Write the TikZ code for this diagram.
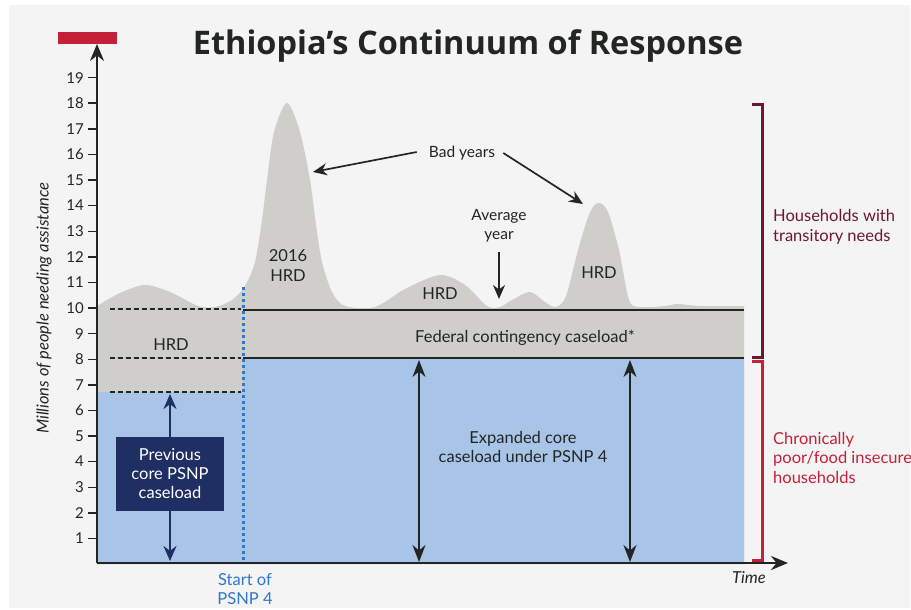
\documentclass[tikz,border=0pt]{standalone}
\usepackage{fontspec}
\setmainfont{Lato}
\newfontfamily\titlefont{Open Sans}
\usetikzlibrary{arrows.meta}
\definecolor{bg}{HTML}{F4F4F4}
\definecolor{hrdgray}{HTML}{D0CECB}
\definecolor{coreblue}{HTML}{A8C5E8}
\definecolor{navy}{HTML}{1F2F63}
\definecolor{maroon}{HTML}{6E1735}
\definecolor{crimson}{HTML}{C4203A}
\definecolor{ink}{HTML}{222622}
\definecolor{psnpblue}{HTML}{2F78CC}
\tikzset{
  lbl/.style={font=\fontsize{16.5}{20}\selectfont, text=ink, align=center, inner sep=0pt},
  ticklbl/.style={font=\fontsize{15}{16}\selectfont, text=ink, anchor=east, inner sep=0pt},
  axisline/.style={draw=ink, line width=2.4pt},
  arr/.style={draw=ink, line width=1.7pt, -{Stealth[length=14pt,width=12pt]}},
  dblarr/.style={draw=ink, line width=2pt, {Stealth[length=17pt,width=13pt]}-{Stealth[length=17pt,width=13pt]}},
  navyarr/.style={draw=navy, line width=2.2pt, -{Stealth[length=15pt,width=13pt]}},
  dashline/.style={draw=ink, line width=2pt, dash pattern=on 5pt off 3pt},
  solidline/.style={draw=ink, line width=2pt},
}
\begin{document}
\begin{tikzpicture}[x=1pt,y=-1pt]
\useasboundingbox (0,0) rectangle (911,610);
\fill[white] (0,0) rectangle (911,610);
\fill[bg] (9,5) rectangle (910,608);

% gray HRD profile
\fill[hrdgray] (97,564) -- plot[smooth,tension=0.5] coordinates {
 (97,306) (120,293) (145,285) (170,292) (198,306) (215,307) (232,300) (245,286)
 (255,262) (262,220) (267,180) (274,132) (287,103) (300,132) (310,180) (316,225)
 (322,262) (332,292) (345,306) (375,307) (405,289) (440,275) (465,285) (487,306)
 (500,307) (512,300) (530,292) (545,302) (556,307) (566,296) (578,250) (590,212)
 (599,203) (608,212) (619,250) (629,300) (640,307) (665,306) (678,304) (700,306) (744,306)}
 -- (744,564) -- cycle;

% blue core caseload
\fill[coreblue] (97,392) -- (243,392) -- (243,358) -- (744,358) -- (744,564) -- (97,564) -- cycle;

% horizontal lines
\draw[dashline] (110,309) -- (241,309);
\draw[dashline] (110,358) -- (241,358);
\draw[dashline] (110,392) -- (241,392);
\draw[solidline] (243,310) -- (744,310);
\draw[solidline] (243,358) -- (744,358);

% start of PSNP 4 dotted line
\draw[psnpblue, line width=3pt, dash pattern=on 3pt off 3pt] (243,287) -- (243,563);

% axes
\coordinate (origin) at (97,563);
\coordinate (ytop) at (97,44);
\coordinate (xend) at (788,563);
\draw[axisline, -{Stealth[length=17pt,width=14pt]}] (origin) -- (ytop);
\draw[axisline, -{Stealth[length=17pt,width=14pt]}] (origin) -- (xend);
\fill[crimson] (58,32) rectangle (117,44);

% ticks
\foreach \v in {1,...,19} {
  \draw[ink, line width=1.4pt] (88,{564-25.6*\v}) -- (97,{564-25.6*\v});
  \node[ticklbl] (t\v) at (84,{564-25.6*\v}) {\v};
}

% title and axis labels
\node[font=\titlefont\fontsize{32.5}{38}\selectfont\bfseries, text=ink, anchor=base, inner sep=0pt] (title) at (468,55) {Ethiopia’s Continuum of Response};
\node[lbl, rotate=90, font=\fontsize{16.5}{19}\selectfont\itshape] (ylabel) at (44,308) {Millions of people needing assistance};
\node[lbl, font=\fontsize{16.5}{19}\selectfont\itshape] (time) at (749,578) {Time};
\node[lbl, text=psnpblue, font=\fontsize{16.5}{19}\selectfont] (start) at (245,589) {Start of\\PSNP 4};

% region labels
\node[lbl] (hrdleft) at (171,345) {HRD};
\node[lbl] (hrd2016) at (288,266) {2016\\HRD};
\node[lbl] (hrdmid) at (440,294) {HRD};
\node[lbl] (hrdright) at (599,273) {HRD};
\node[lbl] (federal) at (525,338) {Federal contingency caseload*};
\node[lbl, font=\fontsize{16.5}{19}\selectfont] (expanded) at (523,447) {Expanded core\\caseload under PSNP 4};

% bad years
\node[lbl, font=\fontsize{15.5}{19}\selectfont] (bad) at (462,153) {Bad years};
\coordinate (peakA) at (313,172);
\coordinate (peakB) at (583,204);
\draw[arr] ([xshift=-12pt,yshift=1pt]bad.west) -- (peakA);
\draw[arr] ([xshift=8pt,yshift=0pt]bad.east) -- (peakB);

% average year
\node[lbl, font=\fontsize{15.5}{19}\selectfont] (avg) at (499,226) {Average\\year};
\coordinate (avgpt) at (499,299);
\draw[arr] (499,252) -- (avgpt);

% expanded core arrows
\coordinate (ea1) at (419,360);
\coordinate (eb1) at (419,562);
\coordinate (ea2) at (630,360);
\coordinate (eb2) at (630,562);
\draw[dblarr] (ea1) -- (eb1);
\draw[dblarr] (ea2) -- (eb2);

% previous core PSNP caseload box
\node[fill=navy, text=white, font=\fontsize{16.5}{19}\selectfont, align=center, minimum width=108pt, minimum height=74pt, inner sep=0pt] (prev) at (170,474) {Previous\\core PSNP\\caseload};
\coordinate (prevtop) at (170,394);
\coordinate (prevbot) at (170,561);
\draw[navyarr] (prev.north) -- (prevtop);
\draw[navyarr] (prev.south) -- (prevbot);

% brackets
\draw[maroon, line width=3pt] (752,105) -- (762,105) -- (762,357) -- (752,357);
\draw[crimson, line width=3pt] (752,361) -- (762,361) -- (762,560) -- (752,560);
\node[lbl, text=maroon, anchor=north west, align=left, font=\fontsize{16.5}{20}\selectfont] (trans) at (773,209) {Households with\\transitory needs};
\node[lbl, text=crimson, anchor=north west, align=left, font=\fontsize{16.5}{19.5}\selectfont] (chron) at (773,432) {Chronically\\poor/food insecure\\households};
\end{tikzpicture}
\end{document}
